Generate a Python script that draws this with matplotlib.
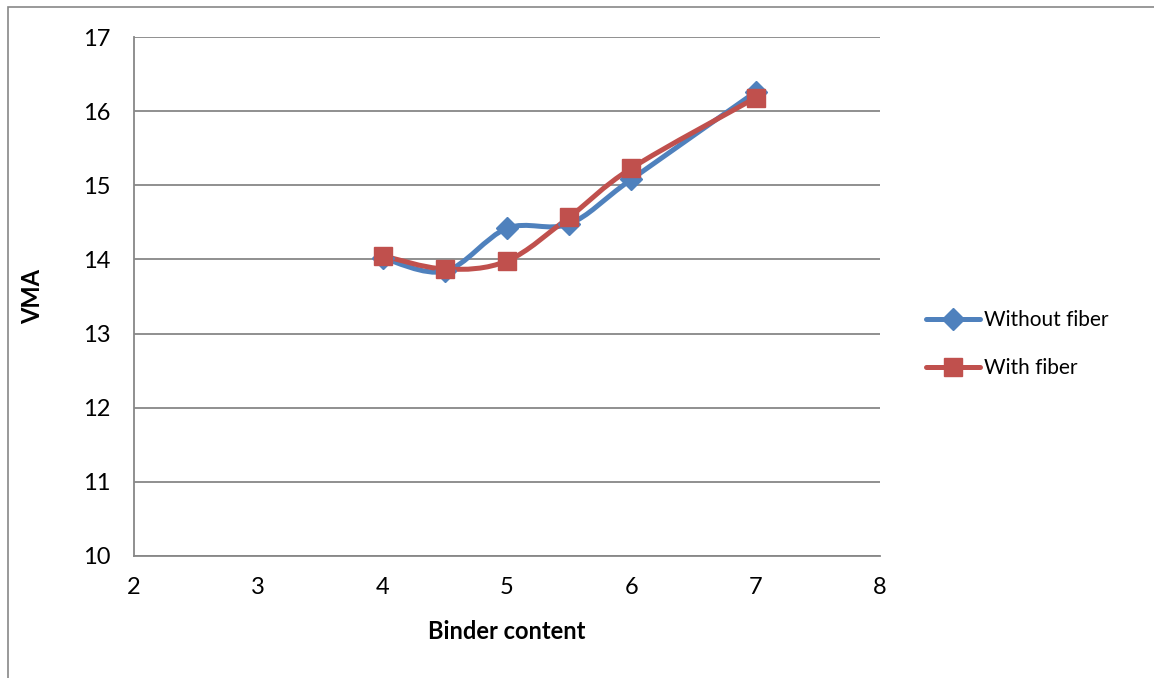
"""VMA against binder content, with and without fiber (smoothed Excel-style lines)."""

import matplotlib
matplotlib.use("Agg")
import matplotlib.pyplot as plt
import numpy as np
from matplotlib.lines import Line2D
from matplotlib.patches import PathPatch, Rectangle
from matplotlib.path import Path

plt.rcParams["font.family"] = ["Lato", "DejaVu Sans"]

binder_content = [4, 4.5, 5, 5.5, 6, 7]
vma_without_fiber = [14.02, 13.84, 14.42, 14.48, 15.08, 16.26]
vma_with_fiber = [14.05, 13.87, 13.98, 14.57, 15.23, 16.18]

x_ticks = [2, 3, 4, 5, 6, 7, 8]
y_ticks = [10, 11, 12, 13, 14, 15, 16, 17]

BLUE = "#4F81BD"
RED = "#C0504D"
GRID = "#878787"


def smooth_path(xs, ys):
    """Cubic Bezier path through the points (Catmull-Rom style control points)."""
    pts = np.column_stack([xs, ys]).astype(float)
    n = len(pts)
    verts = [pts[0]]
    codes = [Path.MOVETO]
    for i in range(n - 1):
        p0 = pts[i - 1] if i > 0 else pts[i]
        p1 = pts[i]
        p2 = pts[i + 1]
        p3 = pts[i + 2] if i + 2 < n else pts[i + 1]
        c1 = p1 + (p2 - p0) / 6.0
        c2 = p2 - (p3 - p1) / 6.0
        verts += [c1, c2, p2]
        codes += [Path.CURVE4] * 3
    return Path(verts, codes)


fig = plt.figure(figsize=(11.54, 6.78), dpi=100)
ax = fig.add_axes([134 / 1154, 1 - 556 / 678, (880 - 134) / 1154, (556 - 37) / 678])

# outer chart border (only top and left edges fall inside the figure)
fig.patches.append(Rectangle((8 / 1154, -0.1), 1.2, 1.1 - 7 / 678,
                             transform=fig.transFigure, fill=False,
                             edgecolor=GRID, linewidth=1.2))

series = [
    ("Without fiber", vma_without_fiber, BLUE, "D", 11),
    ("With fiber", vma_with_fiber, RED, "s", 13),
]
handles = []
for label, ys, color, marker, ms in series:
    ax.add_patch(PathPatch(smooth_path(binder_content, ys), facecolor="none",
                           edgecolor=color, linewidth=3.6, capstyle="round",
                           zorder=3))
    ax.plot(binder_content, ys, linestyle="none", marker=marker, markersize=ms,
            color=color, zorder=4)
    handles.append(Line2D([], [], color=color, linewidth=3.6, marker=marker,
                          markersize=ms, solid_capstyle="round", label=label))

ax.set_xlim(2, 8)
ax.set_ylim(10, 17)
ax.set_xticks(x_ticks)
ax.set_yticks(y_ticks)
ax.yaxis.grid(True, color=GRID, linewidth=1.3)
ax.set_axisbelow(True)
ax.tick_params(length=0, labelsize=17, pad=17)
ax.tick_params(axis="x", pad=15)
for side in ("top", "right"):
    ax.spines[side].set_visible(False)
for side in ("left", "bottom"):
    ax.spines[side].set_color(GRID)
    ax.spines[side].set_linewidth(1.3)

ax.set_xlabel("Binder content", fontsize=17, fontweight="bold", labelpad=16)
ax.set_ylabel("VMA", fontsize=17, fontweight="bold", labelpad=28)

fig.legend(handles=handles, loc="center left",
           bbox_to_anchor=(926 / 1154, 1 - 344 / 678), frameon=False,
           fontsize=15, handlelength=2.6, handletextpad=0.2,
           labelspacing=1.35, borderpad=0, borderaxespad=0)

fig.savefig("out.png", dpi=100, facecolor="white")
plt.close(fig)
